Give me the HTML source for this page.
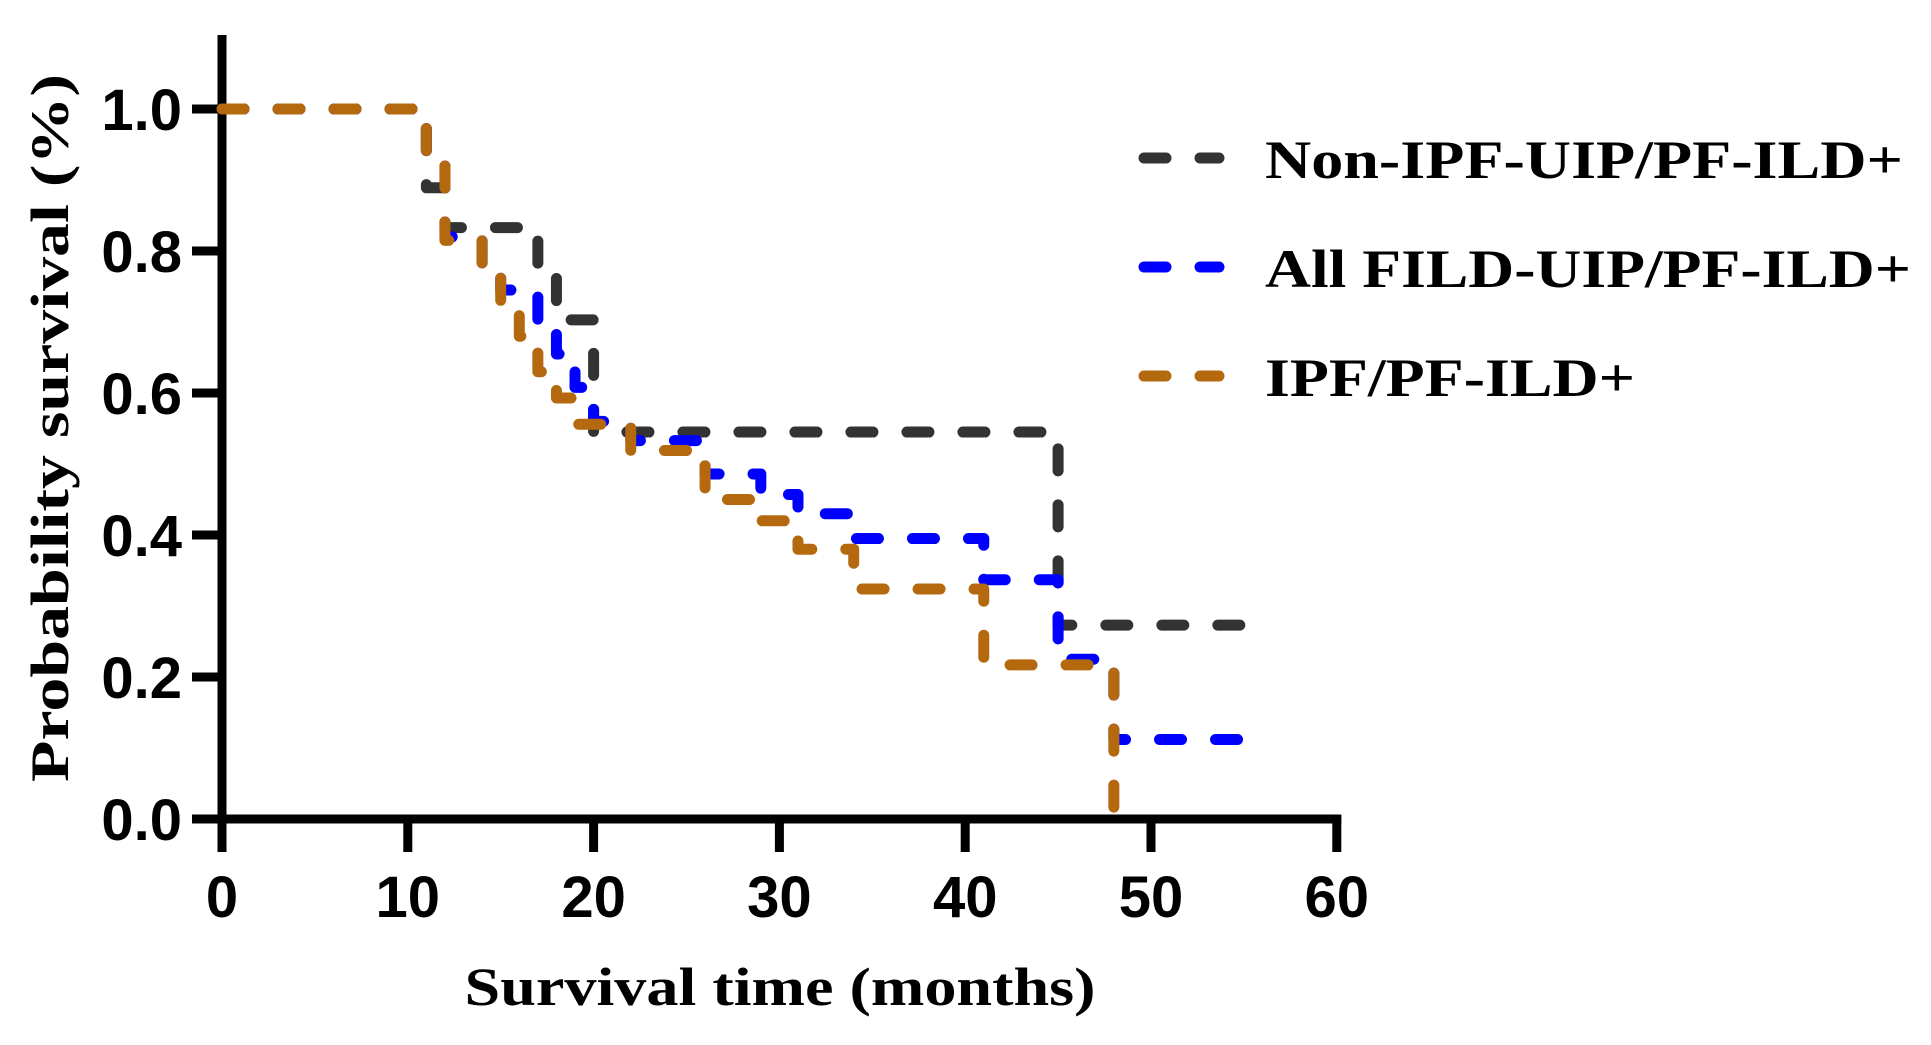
<!DOCTYPE html>
<html><head><meta charset="utf-8"><style>
html,body{margin:0;padding:0;background:#fff;}
svg{display:block;}
</style></head><body>
<svg id="chart" width="1931" height="1045" xmlns="http://www.w3.org/2000/svg">
<g id="axes"></g>
<g id="series"></g>
<g id="legend"></g>
<text transform="translate(68,428) rotate(-90)" text-anchor="middle" font-family="Liberation Serif, serif" font-weight="bold" font-size="54" textLength="708" lengthAdjust="spacingAndGlyphs">Probability survival (%)</text>
<text x="780" y="1005" text-anchor="middle" font-family="Liberation Serif, serif" font-weight="bold" font-size="54" textLength="631" lengthAdjust="spacingAndGlyphs">Survival time (months)</text>
</svg>
<script>
const xTicks = [0,10,20,30,40,50,60];
const yTicks = [0,0.2,0.4,0.6,0.8,1.0];
const yTickLabels = ["0.0","0.2","0.4","0.6","0.8","1.0"];
const seriesNames = ["Non-IPF-UIP/PF-ILD+","All FILD-UIP/PF-ILD+","IPF/PF-ILD+"];
const nonIpfTimes = [0,11,12,17,18,20,45];
const nonIpfValues = [1,0.889,0.833,0.764,0.703,0.545,0.273];
const allFildTimes = [0,11,12,14,15,17,18,19,20,22,26,29,31,34,41,45,48];
const allFildValues = [1,0.926,0.82,0.78,0.745,0.70,0.655,0.608,0.56,0.533,0.486,0.457,0.43,0.395,0.337,0.225,0.112];
const ipfTimes = [0,11,12,14,15,16,17,18,19,22,26,29,31,34,41,48];
const ipfValues = [1,0.926,0.815,0.78,0.72,0.68,0.63,0.593,0.556,0.519,0.45,0.42,0.38,0.324,0.217,0];
const endTimes = [55,55,48];

const X = t => 222 + t*18.58;
const Y = p => 819 - p*710;
const NS = "http://www.w3.org/2000/svg";
function mk(tag, attrs, parent){const e=document.createElementNS(NS,tag);for(const k in attrs)e.setAttribute(k,attrs[k]);parent.appendChild(e);return e;}

const axes = document.getElementById('axes');
let el = mk('line',{x1:222,y1:35,x2:222,y2:823,stroke:'#000','stroke-width':9},axes);


el = mk('line',{x1:218,y1:819,x2:X(60)+4.5,y2:819,stroke:'#000','stroke-width':9},axes);


xTicks.forEach(t=>{
  const tk = mk('line',{x1:X(t),y1:815,x2:X(t),y2:852,stroke:'#000','stroke-width':9},axes);
  
  
  const lb = mk('text',{x:X(t),y:917,'text-anchor':'middle','font-family':'Liberation Sans, sans-serif','font-weight':'bold','font-size':58},axes);
  lb.textContent = String(t);
  
  
});
yTicks.forEach((p,i)=>{
  const tk = mk('line',{x1:192,y1:Y(p),x2:224,y2:Y(p),stroke:'#000','stroke-width':9},axes);
  
  
  const lb = mk('text',{x:182,y:Y(p)+21,'text-anchor':'end','font-family':'Liberation Sans, sans-serif','font-weight':'bold','font-size':58},axes);
  lb.textContent = yTickLabels[i];
  
  
});

const colors = ['#333333','#0000ff','#b5690f'];
const allT = [nonIpfTimes, allFildTimes, ipfTimes];
const allV = [nonIpfValues, allFildValues, ipfValues];
const keys = ['non-ipf','all-fild','ipf'];
const sg = document.getElementById('series');
for(let s=0;s<3;s++){
  const ts=allT[s], vs=allV[s];
  let d = 'M'+X(ts[0])+','+Y(vs[0]);
  for(let i=1;i<ts.length;i++){ d += ' H'+X(ts[i])+' V'+Y(vs[i]); }
  if(endTimes[s] > ts[ts.length-1]) d += ' H'+X(endTimes[s]);
  const p = mk('path',{d:d,fill:'none',stroke:colors[s],'stroke-width':11,'stroke-dasharray':'22 34','stroke-linecap':'round','stroke-linejoin':'round'},sg);
  
  
}

const lg = document.getElementById('legend');
const rowY = [158,267,376];
const textLens = [638,646,370];
for(let s=0;s<3;s++){
  const ln = mk('line',{x1:1144,y1:rowY[s],x2:1219,y2:rowY[s],stroke:colors[s],'stroke-width':11,'stroke-dasharray':'22 34','stroke-linecap':'round'},lg);
  
  
  const tx = mk('text',{x:1265,y:rowY[s]+20,'font-family':'Liberation Serif, serif','font-weight':'bold','font-size':54,textLength:textLens[s],lengthAdjust:'spacingAndGlyphs'},lg);
  tx.textContent = seriesNames[s];
  
  
}
</script>
</body></html>
